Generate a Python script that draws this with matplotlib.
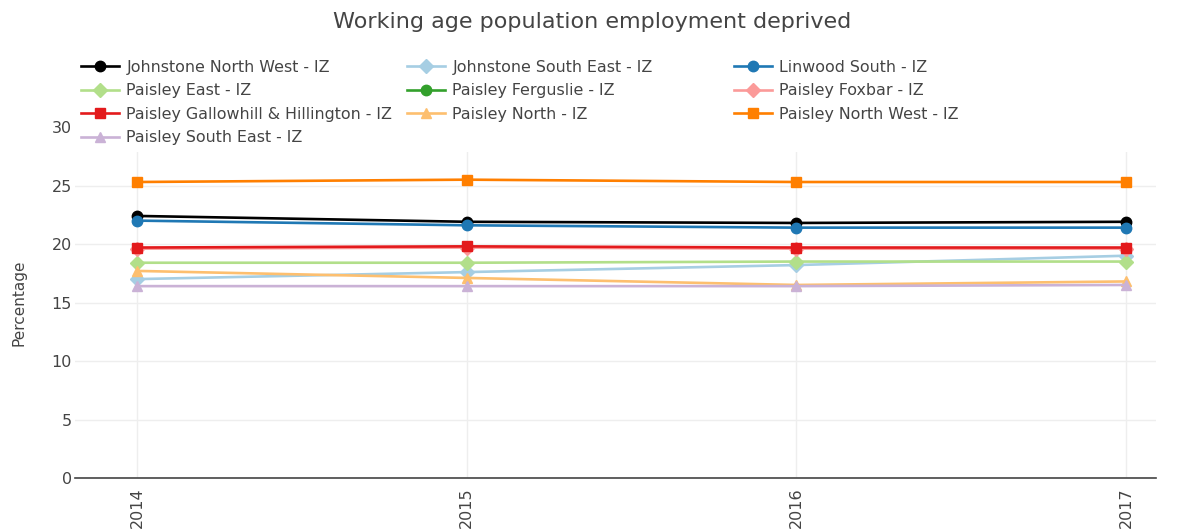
import numpy as np
import matplotlib.pyplot as plt
from matplotlib.patches import Rectangle

plt.rcParams['font.family'] = ['DejaVu Sans']

years = [2014, 2015, 2016, 2017]

johnstone_nw = [22.4, 21.9, 21.8, 21.9]
johnstone_se = [17.0, 17.6, 18.2, 19.0]
linwood_south = [22.0, 21.6, 21.4, 21.4]
paisley_east = [18.4, 18.4, 18.5, 18.5]
paisley_ferguslie = [43.0, 42.0, 41.5, 41.0]  # off the top of the 0-30 axis
paisley_foxbar = [19.6, 19.7, 19.6, 19.6]
paisley_gallowhill = [19.7, 19.8, 19.7, 19.7]
paisley_north = [17.7, 17.1, 16.5, 16.8]
paisley_nw = [25.3, 25.5, 25.3, 25.3]
paisley_se = [16.4, 16.4, 16.4, 16.5]

series = [
    ("Johnstone North West - IZ", johnstone_nw, "#000000", "o"),
    ("Johnstone South East - IZ", johnstone_se, "#a6cee3", "D"),
    ("Linwood South - IZ", linwood_south, "#1f78b4", "o"),
    ("Paisley East - IZ", paisley_east, "#b2df8a", "D"),
    ("Paisley Ferguslie - IZ", paisley_ferguslie, "#33a02c", "o"),
    ("Paisley Foxbar - IZ", paisley_foxbar, "#fb9a99", "D"),
    ("Paisley Gallowhill & Hillington - IZ", paisley_gallowhill, "#e31a1c", "s"),
    ("Paisley North - IZ", paisley_north, "#fdbf6f", "^"),
    ("Paisley North West - IZ", paisley_nw, "#ff7f00", "s"),
    ("Paisley South East - IZ", paisley_se, "#cab2d6", "^"),
]

fig = plt.figure(figsize=(11.84, 5.31), dpi=100)
ax = fig.add_axes([0.063, 0.0998, 0.913, 0.661])

handles = []
for name, vals, col, mk in series:
    ms = 7 if mk == "D" else 7.5
    h, = ax.plot(years, vals, color=col, marker=mk, markersize=ms, linewidth=1.9,
                 label=name)
    handles.append(h)

ax.set_xlim(2013.81, 2017.09)
ax.set_ylim(0, 30)
ax.set_yticks([0, 5, 10, 15, 20, 25, 30])
ax.set_xticks(years)
ax.set_xticklabels([str(y) for y in years], rotation=90)
ax.grid(True, color="#eeeeee", linewidth=1)
ax.set_axisbelow(True)
for s in ["top", "right", "left"]:
    ax.spines[s].set_visible(False)
ax.spines["bottom"].set_color("#444444")
ax.spines["bottom"].set_linewidth(1.2)
ax.tick_params(length=0, labelsize=11.5, colors="#444444")
ax.tick_params(axis="x", pad=7)
ax.tick_params(axis="y", pad=2)
ax.set_ylabel("Percentage", fontsize=11, color="#444444", labelpad=18)

# white legend background band across the plot top (like plotly's legend box)
fig.patches.append(Rectangle((0.063, 0.713), 0.913, 0.19, transform=fig.transFigure,
                             facecolor="white", edgecolor="none", zorder=3))

# legend laid out row-wise in three fixed-width columns
col_x = [0.0565, 0.332, 0.608]
for c in range(3):
    idx = list(range(c, len(series), 3))
    leg = fig.legend([handles[i] for i in idx], [series[i][0] for i in idx],
                     loc="upper left", bbox_to_anchor=(col_x[c], 0.914),
                     frameon=False, fontsize=11.4, handlelength=2.4,
                     labelspacing=0.53, handletextpad=0.45)
    for t in leg.get_texts():
        t.set_color("#444444")

fig.suptitle("Working age population employment deprived", y=0.978,
             fontsize=16, color="#444444")

fig.savefig("out.png", dpi=100)
